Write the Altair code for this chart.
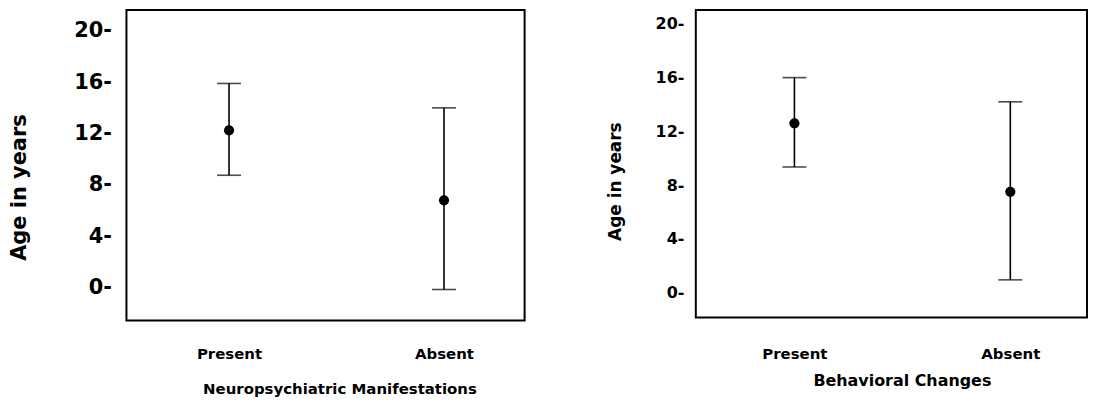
import altair as alt
import pandas as pd

categories = ["Present", "Absent"]

left_mean = [12.25, 6.8]
left_low = [8.75, -0.15]
left_high = [15.9, 14.0]

right_mean = [12.6, 7.5]
right_low = [9.35, 0.95]
right_high = [16.0, 14.2]

y_ticks = [0, 4, 8, 12, 16, 20]

FONT = "DejaVu Sans"


def panel(mean, low, high, xtitle, width, height, ydomain, pad, align,
          lab_size, ytitle_size, ytitle_x, ytitle_y, lab_pad, x_lab_pad, x_title_pad,
          x_title_x, x_font):
    df = pd.DataFrame({"cat": categories, "mean": mean, "low": low, "high": high})
    x = alt.X("cat:O", sort=categories, title=xtitle,
              scale=alt.Scale(type="point", padding=pad, align=align),
              axis=alt.Axis(labelAngle=0, ticks=False, domain=False, labelFont=FONT,
                            labelFontSize=15, labelFontWeight="bold", labelColor="black",
                            labelPadding=x_lab_pad, titleFont=FONT, titleFontSize=x_font,
                            titleFontWeight="bold", titleColor="black",
                            titlePadding=x_title_pad, titleX=x_title_x))
    yax = alt.Axis(values=y_ticks, grid=False, ticks=False, domain=False,
                   labelExpr="datum.label + '-'", labelFont=FONT, labelFontSize=lab_size,
                   labelFontWeight="bold", labelColor="black", labelPadding=lab_pad,
                   title="Age in years", titleFont=FONT, titleFontSize=ytitle_size,
                   titleFontWeight="bold", titleColor="black", titleX=ytitle_x,
                   titleY=ytitle_y)
    ysc = alt.Scale(domain=ydomain, nice=False, zero=False)
    base = alt.Chart(df)
    rule = base.mark_rule(color="black", strokeWidth=1.6).encode(
        x=x, y=alt.Y("low:Q", scale=ysc, axis=yax), y2="high:Q")
    cap_hi = base.mark_tick(color="black", size=24, thickness=1.6, orient="horizontal").encode(
        x=x, y=alt.Y("high:Q", scale=ysc, axis=yax))
    cap_lo = base.mark_tick(color="black", size=24, thickness=1.6, orient="horizontal").encode(
        x=x, y=alt.Y("low:Q", scale=ysc, axis=yax))
    pt = base.mark_point(filled=True, color="black", size=105, opacity=1).encode(
        x=x, y=alt.Y("mean:Q", scale=ysc, axis=yax))
    return alt.layer(rule, cap_hi, cap_lo, pt).properties(
        width=width, height=height,
        view=alt.ViewConfig(stroke="black", strokeWidth=2))


left = panel(left_mean, left_low, left_high, "Neuropsychiatric Manifestations",
             400, 312, [-2.56, 21.63], 0.426, 0.56, 21, 21, -97, 178, 15, 26, 20, 214, 15)
right = panel(right_mean, right_low, right_high, "Behavioral Changes",
              393, 309, [-1.85, 21.04], 0.406, 0.5625, 16, 17, -72, 172, 12, 29, 11, 207, 16)

chart = alt.hconcat(left, right, spacing=80).properties(
    padding={"left": 0, "top": 0, "right": 0, "bottom": 0}
).configure_view(stroke="black", strokeWidth=2).configure(background="white")

chart.save("out.html", embed_options={"renderer": "svg", "actions": False})
